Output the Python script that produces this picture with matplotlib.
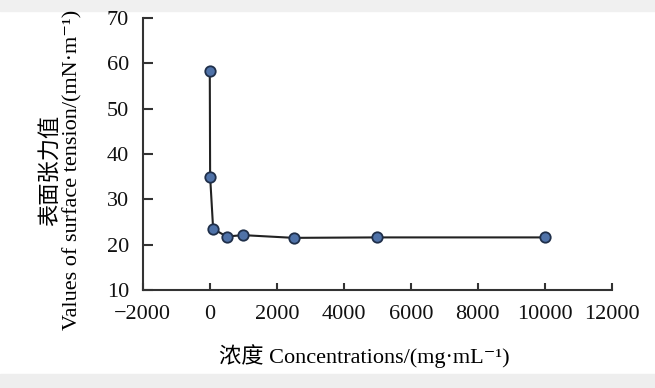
import matplotlib.pyplot as plt
from matplotlib.patches import Rectangle

plt.rcParams['font.family'] = ['Liberation Serif', 'Noto Sans CJK SC', 'DejaVu Serif']
plt.rcParams['axes.unicode_minus'] = True

conc = [0, 10, 100, 500, 1000, 2500, 5000, 10000]
tension = [58.2, 35.0, 23.5, 21.8, 22.1, 21.5, 21.6, 21.6]
xticks = [-2000, 0, 2000, 4000, 6000, 8000, 10000, 12000]
yticks = [10, 20, 30, 40, 50, 60, 70]

fig = plt.figure(figsize=(6.55, 3.88), dpi=100)
ax = fig.add_axes([0.218, 0.2526, 0.716, 0.701])

ax.plot(conc, tension, color='#222222', lw=1.5,
        marker='o', markersize=7.5, markerfacecolor='#4f72a8',
        markeredgecolor='#1f2f4a', markeredgewidth=1.3)

ax.set_xlim(-2000, 12000)
ax.set_ylim(10, 70)
ax.set_xticks(xticks)
ax.set_yticks(yticks)
ax.spines['top'].set_visible(False)
ax.spines['right'].set_visible(False)
for s in ('left', 'bottom'):
    ax.spines[s].set_color('#333333')
    ax.spines[s].set_linewidth(1.5)
ax.tick_params(axis='both', direction='in', labelsize=16, color='#333333',
               width=1.5, labelcolor='#111111')
ax.tick_params(axis='y', length=7, pad=10)
ax.tick_params(axis='x', length=5, pad=11)

ax.set_xlabel('浓度 Concentrations/(mg·mL⁻¹)', fontsize=16)
ax.xaxis.set_label_coords(0.473, -0.2)
ax.set_ylabel('表面张力值\nValues of surface tension/(mN·m⁻¹)',
              fontsize=16, linespacing=1.2)
ax.yaxis.set_label_coords(-0.128, 0.44)

fig.add_artist(Rectangle((0, 0), 1, 0.035, transform=fig.transFigure,
                         color='#eeeeee', zorder=-1))
fig.add_artist(Rectangle((0, 0.972), 1, 0.028, transform=fig.transFigure,
                         color='#f0f0f0', zorder=-1))

fig.savefig('out.png', dpi=100)
